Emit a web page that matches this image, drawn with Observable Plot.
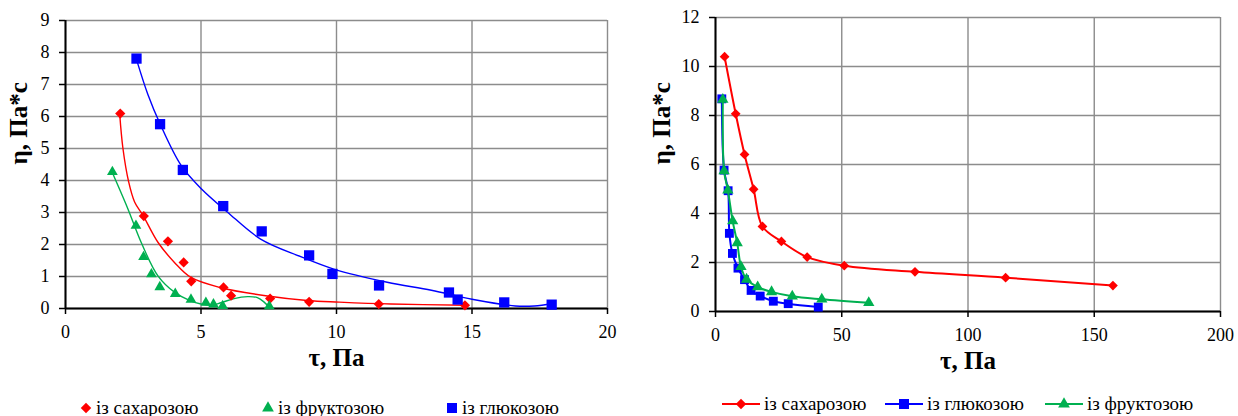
<!DOCTYPE html>
<html><head><meta charset="utf-8">
<script src="https://cdn.jsdelivr.net/npm/d3@7"></script>
<script src="https://cdn.jsdelivr.net/npm/@observablehq/plot@0.6"></script>
<style>
body{margin:0;background:#fff;width:1238px;height:416px;overflow:hidden;position:relative;font-family:"Liberation Serif","Times New Roman","DejaVu Serif",serif;color:#000;}
#left{position:absolute;left:0;top:0;}
#right{position:absolute;left:620px;top:0;}
svg text{font-family:"Liberation Serif","Times New Roman","DejaVu Serif",serif;}
.leg{position:absolute;font-size:19px;white-space:nowrap;line-height:19px;display:flex;align-items:center;}
.leg svg{display:block;}
</style></head><body>
<div id="left"></div><div id="right"></div>
<div id="legends"></div>
<script>
// ---------- Left chart (markers + trend lines) ----------
const leftXTicks = [0, 5, 10, 15, 20];
const leftYTicks = [0, 1, 2, 3, 4, 5, 6, 7, 8, 9];

const leftSucroseTau = [2.02, 2.89, 3.78, 4.36, 4.64, 5.83, 6.11, 7.55, 8.99, 11.56, 14.74];
const leftSucroseEta = [6.09, 2.89, 2.10, 1.44, 0.85, 0.66, 0.40, 0.31, 0.21, 0.14, 0.10];

const leftFructoseTau = [1.73, 2.6, 2.88, 3.17, 3.48, 4.05, 4.63, 5.18, 5.46, 5.8, 7.52];
const leftFructoseEta = [4.27, 2.59, 1.61, 1.07, 0.67, 0.46, 0.28, 0.18, 0.13, 0.08, 0.07];

const leftGlucoseTau = [2.62, 3.49, 4.33, 5.82, 7.24, 8.99, 9.85, 11.57, 14.15, 14.47, 16.19, 17.94];
const leftGlucoseEta = [7.81, 5.76, 4.33, 3.2, 2.41, 1.66, 1.08, 0.72, 0.5, 0.28, 0.19, 0.12];

// trend lines
const leftSucroseTrendTau = [2.0, 2.12, 2.33, 2.55, 2.86, 3.41, 4.02, 4.63, 5.74, 7.45, 8.92, 10.1, 12.0, 14.78];
const leftSucroseTrendEta = [6.08, 5.0, 3.96, 3.33, 2.91, 2.07, 1.44, 0.97, 0.65, 0.39, 0.25, 0.2, 0.14, 0.1];

const leftFructoseTrendTau = [1.69, 2.3, 2.79, 3.41, 4.02, 4.63, 5.0, 5.37, 5.74, 6.22, 6.72, 7.08, 7.33, 7.51];
const leftFructoseTrendEta = [4.32, 3.12, 2.07, 1.02, 0.51, 0.23, 0.14, 0.10, 0.18, 0.31, 0.37, 0.34, 0.2, 0.04];

const leftGlucoseTrendTau = [2.61, 3.04, 3.5, 4.26, 5.0, 5.98, 7.2, 8.68, 9.9, 11.87, 13.5, 15.0, 16.6, 17.3, 17.96];
const leftGlucoseTrendEta = [7.81, 6.69, 5.75, 4.48, 3.75, 3.01, 2.17, 1.62, 1.23, 0.82, 0.57, 0.29, 0.08, 0.08, 0.15];

// ---------- Right chart (lines with markers) ----------
const rightXTicks = [0, 50, 100, 150, 200];
const rightYTicks = [0, 2, 4, 6, 8, 10, 12];

const rightSucroseTau = [3.6, 8.0, 11.5, 15.1, 18.6, 26.1, 36.3, 51.0, 79.0, 114.9, 157.4];
const rightSucroseEta = [10.4, 8.07, 6.41, 4.99, 3.47, 2.86, 2.22, 1.87, 1.62, 1.38, 1.06];

const rightGlucoseTau = [2.5, 3.4, 5.0, 5.5, 6.7, 8.9, 11.5, 14.1, 17.7, 22.9, 28.8, 40.7];
const rightGlucoseEta = [8.68, 5.77, 4.93, 3.19, 2.37, 1.77, 1.3, 0.86, 0.63, 0.42, 0.32, 0.18];

const rightFructoseTau = [2.9, 3.4, 4.9, 6.8, 8.6, 10.1, 12.3, 16.7, 22.2, 30.4, 42.1, 60.7];
const rightFructoseEta = [8.65, 5.74, 4.95, 3.69, 2.8, 1.83, 1.31, 1.0, 0.8, 0.62, 0.5, 0.36];

const xLabel = "τ, Па";
const yLabel = "η, Па*с";
const names = {sucrose: "із сахарозою", fructose: "із фруктозою", glucose: "із глюкозою"};
const colors = {sucrose: "#ff0000", fructose: "#00b050", glucose: "#0000ff"};
const symbols = {sucrose: "diamond2", fructose: "triangle", glucose: "square"};

const zip = (xs, ys) => xs.map((x, i) => ({x, y: ys[i]}));

const font = "Liberation Serif, Times New Roman, DejaVu Serif, serif";

function frameMarks(xt, yt, yLabelDx) {
  return [
    Plot.gridX(xt, {stroke: "#8c8c8c", strokeOpacity: 1, strokeWidth: 1.4}),
    Plot.gridY(yt, {stroke: "#8c8c8c", strokeOpacity: 1, strokeWidth: 1.4}),
    Plot.axisX(xt, {tickSize: 6, tickPadding: 11, fontSize: 18, fontFamily: font, label: null, strokeWidth: 1.5}),
    Plot.axisY(yt, {tickSize: 6, tickPadding: 10, fontSize: 18, fontFamily: font, label: null, strokeWidth: 1.5}),
    Plot.ruleY([0], {stroke: "#000", strokeWidth: 2}),
    Plot.ruleX([0], {stroke: "#000", strokeWidth: 2}),
    Plot.text([xLabel], {text: d => d, frameAnchor: "bottom", dy: 57, fontSize: 25, fontWeight: "bold", fontFamily: font, fill: "#000"}),
    Plot.text([yLabel], {text: d => d, frameAnchor: "left", dx: yLabelDx, rotate: -90, fontSize: 25, fontWeight: "bold", fontFamily: font, fill: "#000"})
  ];
}

const left = Plot.plot({
  width: 620, height: 385,
  marginLeft: 65, marginRight: 13, marginTop: 20, marginBottom: 77,
  style: {fontFamily: font, background: "transparent", color: "#000", overflow: "visible"},
  x: {domain: [0, 20]},
  y: {domain: [0, 9]},
  marks: [
    ...frameMarks(leftXTicks, leftYTicks, -47),
    Plot.line(zip(leftSucroseTrendTau, leftSucroseTrendEta), {x: "x", y: "y", stroke: colors.sucrose, strokeWidth: 1.4, curve: "catmull-rom"}),
    Plot.line(zip(leftFructoseTrendTau, leftFructoseTrendEta), {x: "x", y: "y", stroke: colors.fructose, strokeWidth: 1.4, curve: "catmull-rom"}),
    Plot.line(zip(leftGlucoseTrendTau, leftGlucoseTrendEta), {x: "x", y: "y", stroke: colors.glucose, strokeWidth: 1.4, curve: "catmull-rom"}),
    Plot.dot(zip(leftSucroseTau, leftSucroseEta), {x: "x", y: "y", symbol: symbols.sucrose, r: 4.6, fill: colors.sucrose, stroke: "none"}),
    Plot.dot(zip(leftFructoseTau, leftFructoseEta), {x: "x", y: "y", symbol: symbols.fructose, r: 4.0, fill: colors.fructose, stroke: "none"}),
    Plot.dot(zip(leftGlucoseTau, leftGlucoseEta), {x: "x", y: "y", symbol: symbols.glucose, r: 5.8, fill: colors.glucose, stroke: "none"})
  ]
});
document.getElementById("left").appendChild(left);

const right = Plot.plot({
  width: 618, height: 385,
  marginLeft: 95, marginRight: 18, marginTop: 17, marginBottom: 74,
  style: {fontFamily: font, background: "transparent", color: "#000", overflow: "visible"},
  x: {domain: [0, 200]},
  y: {domain: [0, 12]},
  marks: [
    ...frameMarks(rightXTicks, rightYTicks, -54),
    Plot.line(zip(rightSucroseTau, rightSucroseEta), {x: "x", y: "y", stroke: colors.sucrose, strokeWidth: 2, curve: "catmull-rom"}),
    Plot.dot(zip(rightSucroseTau, rightSucroseEta), {x: "x", y: "y", symbol: symbols.sucrose, r: 4.4, fill: colors.sucrose, stroke: "none"}),
    Plot.line(zip(rightGlucoseTau, rightGlucoseEta), {x: "x", y: "y", stroke: colors.glucose, strokeWidth: 2, curve: "catmull-rom"}),
    Plot.dot(zip(rightGlucoseTau, rightGlucoseEta), {x: "x", y: "y", symbol: symbols.glucose, r: 5.0, fill: colors.glucose, stroke: "none"}),
    Plot.line(zip(rightFructoseTau, rightFructoseEta), {x: "x", y: "y", stroke: colors.fructose, strokeWidth: 2, curve: "catmull-rom"}),
    Plot.dot(zip(rightFructoseTau, rightFructoseEta), {x: "x", y: "y", symbol: symbols.fructose, r: 4.2, fill: colors.fructose, stroke: "none"})
  ]
});
document.getElementById("right").appendChild(right);

// ---------- Legends ----------
function markerSvg(key, withLine) {
  const w = withLine ? 38 : 12, h = 14, cx = w / 2, cy = h / 2;
  const sym = d3.symbol().type({diamond2: d3.symbolDiamond2, triangle: d3.symbolTriangle, square: d3.symbolSquare}[symbols[key]])
    .size(key === "glucose" ? 100 : key === "fructose" ? 60 : 70)();
  return `<svg width="${w}" height="${h}">` +
    (withLine ? `<line x1="0" x2="${w}" y1="${cy}" y2="${cy}" stroke="${colors[key]}" stroke-width="2"/>` : "") +
    `<path d="${sym}" transform="translate(${cx},${cy})" fill="${colors[key]}"/></svg>`;
}
const legendItems = [
  {key: "sucrose", left: 80, top: 398, line: false},
  {key: "fructose", left: 262, top: 398, line: false},
  {key: "glucose", left: 446, top: 398, line: false},
  {key: "sucrose", left: 722, top: 394, line: true},
  {key: "glucose", left: 885, top: 394, line: true},
  {key: "fructose", left: 1045, top: 394, line: true}
];
document.getElementById("legends").innerHTML = legendItems.map(it =>
  `<div class="leg" style="left:${it.left}px;top:${it.top}px">${markerSvg(it.key, it.line)}<span style="margin-left:4px">${names[it.key]}</span></div>`
).join("");
</script>
</body></html>
